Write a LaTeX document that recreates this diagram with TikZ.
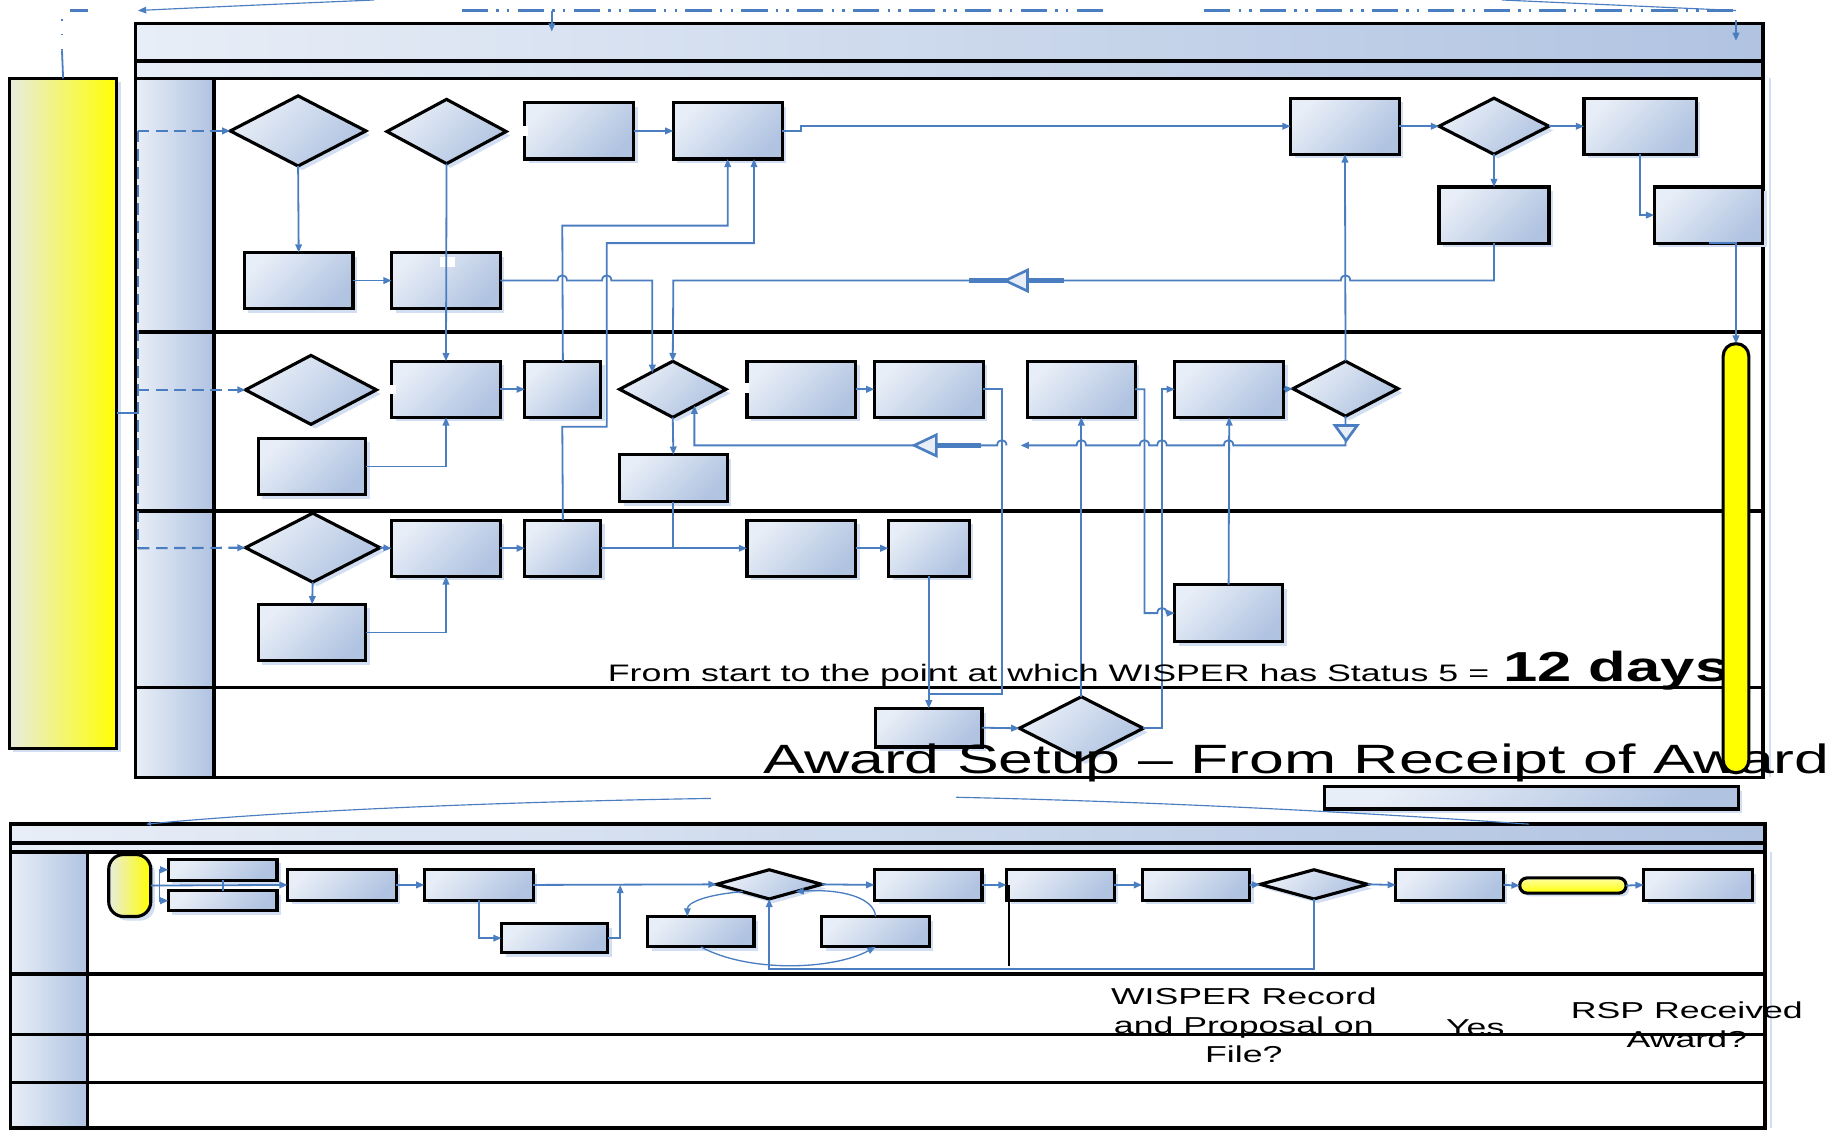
\documentclass[tikz,border=0pt]{standalone}
\usepackage{graphicx}
\usepackage{fontspec}
\setmainfont{Liberation Sans}
\usetikzlibrary{shapes.geometric,arrows.meta,shadows}
\definecolor{bl1}{RGB}{232,238,247}
\definecolor{bl2}{RGB}{176,195,225}
\definecolor{cb}{RGB}{74,126,193}
\definecolor{shc}{RGB}{210,222,241}
\definecolor{ylw0}{RGB}{232,236,224}
\definecolor{ylw1}{RGB}{248,248,100}
\newcommand{\unitlen}{0.025cm}
\newcommand{\mkbox}[6][bx]{\node[#1, minimum width={(#5-#3)*\unitlen}, minimum height={(#6-#4)*\unitlen}] (#2) at ({(#3+#5)/2},{(#4+#6)/2}) {};}
\tikzset{
  shp/.style={draw=black, line width=1.9pt, inner sep=0pt, outer sep=0pt,
    top color=bl1, bottom color=bl2, shading angle=45,
    drop shadow={shadow xshift=2.5pt, shadow yshift=-2.5pt, fill=shc, opacity=1}},
  bx/.style={shp, rectangle},
  dm/.style={shp, diamond},
  ybox/.style={draw=black, line width=1.9pt, inner sep=0pt, outer sep=0pt,
    left color=ylw0, middle color=ylw1, right color=yellow,
    drop shadow={shadow xshift=2.5pt, shadow yshift=-2.5pt, fill=shc, opacity=1}},
  cn/.style={draw=cb, line width=1.1pt},
  ah/.style={-{Triangle[length=5pt,width=4pt]}},
  ar/.style={cn, ah},
  dsh/.style={cn, line width=1.3pt, dash pattern=on 7pt off 4pt},
  ddot/.style={cn, line width=1.6pt, dash pattern=on 16pt off 5pt on 1.5pt off 5pt on 1.5pt off 5pt},
  thn/.style={draw=cb, line width=0.7pt},
  frm/.style={draw=black, line width=2.2pt},
  bigtri/.style={draw=cb, fill=bl1, line width=1.6pt, line join=miter},
  thick seg/.style={draw=cb, line width=2.6pt},
  txt/.style={inner sep=0pt, outer sep=0pt, text=black},
}
\begin{document}
\begin{tikzpicture}[x=0.025cm, y=-0.025cm]
\useasboundingbox (0,0) rectangle (1568,966);
\fill[white] (0,0) rectangle (1568,966);

%================ UPPER POOL =================
\shade[left color=bl1, right color=bl2] (116,20) rectangle (1508,52);
\shade[left color=bl1, right color=bl2] (116,52) rectangle (1508,67);
\foreach \ya/\yb in {67/284, 284/437, 437/588, 588/665}
  \shade[left color=bl1, right color=bl2] (116,\ya) rectangle (183,\yb);
\draw[shc, line width=1pt] (1514,67) -- (1514,665);
\draw[frm] (116,20) rectangle (1508,665);
\foreach \yy in {52,67,284,437,588} \draw[frm] (116,\yy) -- (1508,\yy);
\draw[frm] (183,67) -- (183,665);

% yellow start bar
\mkbox[ybox]{YB}{8}{67}{100}{640}

% lane 1
\mkbox[dm]{D1}{197}{82}{313}{142}
\mkbox[dm]{D2}{331}{85}{433}{140}
\mkbox{R1}{449}{88}{542}{136}
\mkbox{R2}{576}{88}{669}{136}
\mkbox{R3}{1104}{84}{1197}{132}
\mkbox[dm]{D3}{1231}{84}{1325}{132}
\mkbox{R4}{1355}{84}{1451}{132}
\mkbox{R5}{1231}{160}{1325}{208}
\mkbox{R6}{1415}{160}{1508}{208}
\mkbox{R7}{209}{216}{302}{264}
\mkbox{R8}{335}{216}{428}{264}
% lane 2
\mkbox[dm]{D4}{210}{304}{322}{363}
\mkbox{R9}{335}{309}{428}{357}
\mkbox{R10}{449}{309}{514}{357}
\mkbox[dm]{D5}{530}{309}{621}{357}
\mkbox{R11}{639}{309}{732}{357}
\mkbox{R12}{748}{309}{841}{357}
\mkbox{R13}{879}{309}{971}{357}
\mkbox{R14}{1005}{309}{1098}{357}
\mkbox[dm]{D6}{1106}{309}{1196}{356}
\mkbox{R15}{221}{375}{313}{423}
\mkbox{R16}{530}{389}{622}{429}
% lane 3
\mkbox[dm]{D7}{210}{439}{325}{498}
\mkbox{R17}{335}{445}{428}{493}
\mkbox{R18}{449}{445}{514}{493}
\mkbox{R19}{639}{445}{732}{493}
\mkbox{R20}{760}{445}{829}{493}
\mkbox{R21}{221}{517}{313}{565}
\mkbox{R22}{1005}{500}{1097}{549}
% lane 4
\mkbox{R23}{749}{606}{840}{639}
\mkbox[dm]{D8}{872}{596}{978}{650}

% small white label gaps
\fill[white] (376,220) rectangle (389,228);
\fill[white] (446,108) rectangle (452,116);
\fill[white] (333,329) rectangle (339,337);
\fill[white] (636,328) rectangle (641,336);

% --- connectors lane 1
\draw[ar] (D1.south) -- (R7.north);
\draw[ar] (R7.east) -- (R8.west);
\draw[ar] (D2.south) -- (R9.north);
\draw[ar] (R1.east) -- (R2.west);
\draw[ar] (R2.east) -- ++(16,0) |- (R3.west);
\draw[ar] (R3.east) -- (D3.west);
\draw[ar] (D3.east) -- (R4.west);
\draw[ar] (D3.south) -- (R5.north);
\draw[ar] (R4.south) |- (R6.west);
\draw[ar] (R5.south) |- (1155,240) .. controls (1155,234) and (1147,234) .. (1147,240) -- (576,240) -- (D5.north);
\draw[ar] (R8.east) -- (477,240) .. controls (477,234) and (485,234) .. (485,240) -- (515,240) .. controls (515,234) and (523,234) .. (523,240) -- (558,240) -- (558,319);
\draw[ar] (R10.north) -- (481,193) -| (R2.south);
\draw[ar] (R18.north) -- (481,365) -- (519,365) -- (519,208) -- (645,208) -- (645,136);
\draw[ar] (D6.north) -- (R3.south);
% big triangle lane 1
\draw[thick seg] (829,240) -- (910,240);
\draw[bigtri] (860,240) -- (879,231) -- (879,249) -- cycle;

% --- connectors lane 2
\draw[ar] (R15.east) -| (R9.south);
\draw[ar] (R9.east) -- (R10.west);
\draw[ar] (D5.south) -- (R16.north);
\draw[cn] (R16.south) -- (576,469);
\draw[ar] (R11.east) -- (R12.west);
\draw[cn] (R12.east) -- (857,333) -- (857,594) -- (794,594);
\draw[ar] (R13.east) -- (979,333) -- (979,524.5) -- (990,524.5) .. controls (990,518.5) and (998,518.5) .. (998,524.5) -- (R22.west);
\draw[ar] (D8.east) -| (994,333) -- (R14.west);
\draw[ar] (D8.north) -- (R13.south);
\draw[ar] (R22.north) -- (R14.south);
\draw[ar] (R14.east) -- (D6.west);
\draw[ar] (D6.south) -- (1151,381) -- (1055,381) .. controls (1055,375) and (1047,375) .. (1047,381)
  -- (998,381) .. controls (998,375) and (990,375) .. (990,381)
  -- (983,381) .. controls (983,375) and (975,375) .. (975,381)
  -- (929,381) .. controls (929,375) and (921,375) .. (921,381)
  -- (873,381);
\draw[ar] (861,381) .. controls (861,375) and (853,375) .. (853,381) -- (594,381) -- (594,347);
\draw[thick seg] (801,381) -- (839,381);
\draw[bigtri] (782,381) -- (801,372) -- (801,390) -- cycle;
\draw[bigtri] (1142,364) -- (1161,364) -- (1151.5,377) -- cycle;

% --- connectors lane 3/4
\draw[ar] (D7.east) -- (R17.west);
\draw[ar] (D7.south) -- (R21.north);
\draw[ar] (R21.east) -| (R17.south);
\draw[ar] (R17.east) -- (R18.west);
\draw[ar] (R18.east) -- (R19.west);
\draw[ar] (R19.east) -- (R20.west);
\draw[ar] (R20.south) -- (R23.north);
\draw[ar] (R23.east) -- (D8.west);

% --- left dashed feed
\draw[cn, line width=1.3pt] (YB.east) -- (118,353.5);
\draw[dsh, ah] (118,112) -- (D1.west);
\draw[dsh] (118,112) -- (118,469);
\draw[dsh, ah] (118,333.5) -- (D4.west);
\draw[dsh, ah] (118,469) -- (D7.west);

% --- top off-page lines
\draw[cn] (YB.north) -- (53,43);
\draw[cn, dash pattern=on 1pt off 8pt] (53,43) -- (53,9);
\draw[ddot] (60,9) -- (75,9);
\draw[thn, ah] (320,0) .. controls (250,3) and (180,6) .. (118,9);
\draw[ddot] (395,9) -- (950,9);
\draw[ar] (472,9) -- (472,27);
\draw[ddot] (1030,9) -- (1485,9);
\draw[thn] (1285,0) -- (1485,9);
\draw[ar] (1485,17) -- (1485,35);

% --- texts upper
\node[txt, anchor=base west] (t1) at (520,583) {\fontsize{14.5pt}{17pt}\selectfont\scalebox{1.5}[1]{From start to the point at which WISPER has Status 5 =}};
\node[txt, anchor=base west] (t2) at (1286,583) {\fontsize{25.5pt}{30pt}\selectfont\bfseries\scalebox{1.47}[1]{12 days}};
\node[txt, anchor=base west] (t3) at (653,662) {\fontsize{24.9pt}{30pt}\selectfont\scalebox{1.53}[1]{Award Setup – From Receipt of Award}};

% end bar (drawn on top)
\mkbox[draw=black, line width=1.9pt, inner sep=0pt, outer sep=0pt, rounded corners=7.6pt, left color=yellow, middle color=yellow!45!white, right color=yellow, shading angle=90]{EB}{1474}{294}{1496}{661}
\draw[ar] (R6.south) -| (EB.north);

% bar below upper pool
\mkbox{Bar}{1133}{673}{1487}{692}

%================ LOWER POOL =================
\shade[left color=bl1, right color=bl2] (9,705) rectangle (1510,721);
\shade[left color=bl1, right color=bl2] (9,721) rectangle (1510,729);
\foreach \ya/\yb in {729/833, 833/885, 885/926, 926/965}
  \shade[left color=bl1, right color=bl2] (9,\ya) rectangle (75,\yb);
\draw[shc, line width=1pt] (1515,729) -- (1515,965);
\draw[frm] (9,705) rectangle (1510,965);
\foreach \yy in {721,729,833,885,926} \draw[frm] (9,\yy) -- (1510,\yy);
\draw[frm] (75,729) -- (75,965);

\draw[thn, -{Triangle[length=3pt,width=2.5pt]}] (608,683) .. controls (420,686) and (240,694) .. (125,705);
\draw[thn] (818,682) .. controls (1000,686) and (1180,696) .. (1308,705);

\mkbox[ybox, rounded corners=9pt]{Ly}{93}{731}{129}{784}
\mkbox{La}{144}{735}{237}{753}
\mkbox{Lb}{144}{762}{237}{779}
\mkbox{Lc}{246}{744}{339}{770}
\mkbox{Ld}{363}{744}{456}{770}
\mkbox{Le}{429}{790}{520}{815}
\mkbox[dm]{Lf}{613}{744}{703}{769}
\mkbox{Lg}{554}{784}{645}{810}
\mkbox{Lh}{703}{784}{795}{810}
\mkbox{Li}{748}{744}{840}{770}
\mkbox{Lj}{861}{744}{953}{770}
\mkbox{Lk}{977}{744}{1069}{770}
\mkbox[dm]{Ll}{1078}{744}{1170}{769}
\mkbox{Lm}{1194}{744}{1286}{770}
\mkbox[draw=black, line width=1.9pt, inner sep=0pt, outer sep=0pt, rounded corners=4.5pt, top color=yellow!35!white, bottom color=yellow, drop shadow={shadow xshift=2pt, shadow yshift=-2pt, fill=shc, opacity=1}]{Lp}{1300}{751}{1391}{764}
\mkbox{Ln}{1406}{744}{1499}{770}

\draw[ar] (Ly.east) -- (Lc.west);
\draw[ar] (136.5,757) |- (La.west);
\draw[ar] (136.5,757) |- (Lb.west);
\draw[cn] (La.south) -- (Lb.north);
\draw[ar] (Lc.east) -- (Ld.west);
\draw[ar] (Ld.east) -- (Lf.west);
\draw[ar] (Ld.south) |- (Le.west);
\draw[ar] (Le.east) -| (530.5,757);
\draw[ar] (Lf.east) -- (Li.west);
\draw[ar, line width=0.8pt] (Lf.south west) .. controls (605,765) and (588,772) .. (588,784);
\draw[ar, line width=0.8pt] (Lh.north) .. controls (748,768) and (720,760) .. (Lf.south east);
\draw[ar, line width=0.8pt] (Lg.south) .. controls (640,832) and (712,830) .. (Lh.south);
\draw[ar] (Ll.south) -- (1124,829) -| (Lf.south);
\draw[black, line width=1.5pt] (863,757) -- (863,826);
\draw[ar] (Li.east) -- (Lj.west);
\draw[ar] (Lj.east) -- (Lk.west);
\draw[ar] (Lk.east) -- (Ll.west);
\draw[ar] (Ll.east) -- (Lm.west);
\draw[ar] (Lm.east) -- (Lp.west);
\draw[ar] (Lp.east) -- (Ln.west);

% lower texts
\node[txt] (t4) at (1064,879) {\fontsize{14pt}{17.8pt}\selectfont\scalebox{1.55}[1]{\begin{tabular}{@{}c@{}}WISPER Record\\and Proposal on\\File?\end{tabular}}};
\node[txt] (t5) at (1262,879) {\fontsize{14pt}{17.8pt}\selectfont\scalebox{1.55}[1]{Yes}};
\node[txt] (t6) at (1443,878.5) {\fontsize{14pt}{17.8pt}\selectfont\scalebox{1.55}[1]{\begin{tabular}{@{}c@{}}RSP Received\\Award?\end{tabular}}};
\end{tikzpicture}
\end{document}
